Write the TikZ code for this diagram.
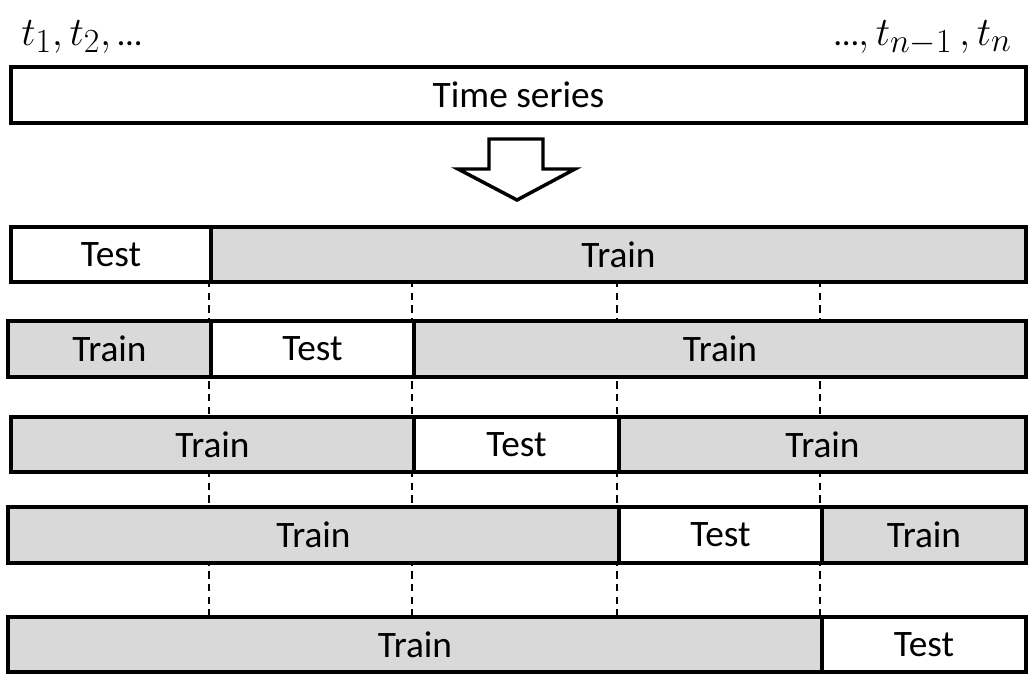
\documentclass[tikz,border=0pt]{standalone}
\usepackage{graphicx}
\usepackage{fontspec}
\setmainfont{Carlito}
\definecolor{train}{HTML}{D9D9D9}
\tikzset{
  seg/.style={draw=black, line width=3pt, inner sep=0pt, anchor=north west, font=\fontsize{28}{32}\selectfont},
  trainseg/.style={seg, fill=train},
  testseg/.style={seg, fill=white},
  guide/.style={draw=black, line width=1.3pt, dash pattern=on 5.5pt off 4pt},
  bigarrow/.style={draw=black, line width=2.6pt, fill=white, line join=miter},
  tlabel/.style={inner sep=0pt, font=\fontsize{24.88}{30}\selectfont}
}
\newcommand{\segbox}[7]{%
  \node[#6, minimum width={(#4-#2)*0.75pt}, minimum height={(#5-#3)*0.75pt}] (#1) at (#2,#3) {#7};}
\begin{document}
\begin{tikzpicture}[x=0.75pt,y=-0.75pt]
\useasboundingbox (0,0) rectangle (1034,689);
% guide lines
\foreach \gx/\gn in {209/a,412/b,617/c,820/d}{
  \coordinate (g\gn top) at (\gx,280);
  \coordinate (g\gn bot) at (\gx,615);
  \draw[guide] (g\gn top) -- (g\gn bot);
}
% labels
\node[tlabel, anchor=base west] (lt) at (21,45) {\scalebox{1.22}{$t_1, t_2,$\,{\fontsize{21}{26}\selectfont …}}};
\node[tlabel, anchor=base east] (rt) at (1012,45) {\scalebox{1.22}{{\fontsize{21}{26}\selectfont …}$, t_{n-1}\,, t_n$}};
% time series
\segbox{ts}{9}{65}{1024}{121}{testseg}{Time series}
% arrow
\draw[bigarrow] (489,139) -- (543,139) -- (543,169) -- (575,169) -- (517,200) -- (458,169) -- (489,169) -- cycle;
% row 1
\segbox{r1a}{9}{225}{209}{280}{testseg}{Test}
\segbox{r1b}{209}{225}{1024}{280}{trainseg}{Train}
% row 2
\segbox{r2a}{6}{319}{209}{375}{trainseg}{Train}
\segbox{r2b}{209}{319}{412}{375}{testseg}{Test}
\segbox{r2c}{412}{319}{1024}{375}{trainseg}{Train}
% row 3
\segbox{r3a}{9}{415}{412}{470}{trainseg}{Train}
\segbox{r3b}{412}{415}{617}{470}{testseg}{Test}
\segbox{r3c}{617}{415}{1024}{470}{trainseg}{Train}
% row 4
\segbox{r4a}{6}{505}{617}{561}{trainseg}{Train}
\segbox{r4b}{617}{505}{820}{561}{testseg}{Test}
\segbox{r4c}{820}{505}{1024}{561}{trainseg}{Train}
% row 5
\segbox{r5a}{6}{615}{820}{670}{trainseg}{Train}
\segbox{r5b}{820}{615}{1024}{670}{testseg}{Test}
\end{tikzpicture}
\end{document}
